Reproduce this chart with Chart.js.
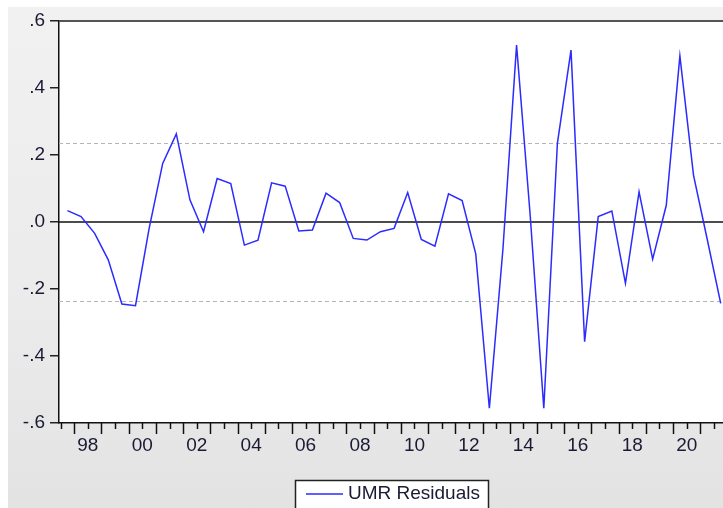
<!DOCTYPE html>
<html>
<head>
<meta charset="utf-8">
<script src="https://cdn.jsdelivr.net/npm/chart.js@4/dist/chart.umd.min.js"></script>
<style>
  html, body { margin: 0; padding: 0; background: #ffffff; overflow: hidden; }
  #wrap { position: relative; width: 723px; height: 508px; overflow: hidden; }
  #panel {
    position: absolute; left: 8px; top: 7px; right: 0; bottom: 0;
    background: linear-gradient(to bottom, #f1f1f1 0%, #ebebeb 60%, #e3e3e3 100%);
  }
  #c { position: absolute; left: 0; top: 0; }
</style>
</head>
<body>
<div id="wrap">
  <div id="panel"></div>
  <canvas id="c" width="760" height="508"></canvas>
</div>
<script>
// Semiannual residuals, 1997H2 .. 2021H2
const periods = [
  '1997H2',
  '1998H1','1998H2','1999H1','1999H2','2000H1','2000H2','2001H1','2001H2',
  '2002H1','2002H2','2003H1','2003H2','2004H1','2004H2','2005H1','2005H2',
  '2006H1','2006H2','2007H1','2007H2','2008H1','2008H2','2009H1','2009H2',
  '2010H1','2010H2','2011H1','2011H2','2012H1','2012H2','2013H1','2013H2',
  '2014H1','2014H2','2015H1','2015H2','2016H1','2016H2','2017H1','2017H2',
  '2018H1','2018H2','2019H1','2019H2','2020H1','2020H2','2021H1','2021H2'
];
const residuals = [
  0.034,
  0.016, -0.034, -0.113, -0.245, -0.250, -0.020, 0.175, 0.263,
  0.066, -0.029, 0.130, 0.115, -0.069, -0.054, 0.117, 0.107,
  -0.027, -0.024, 0.086, 0.058, -0.049, -0.054, -0.029, -0.019,
  0.088, -0.052, -0.072, 0.084, 0.064, -0.095, -0.556, -0.080,
  0.528, 0.020, -0.556, 0.235, 0.513, -0.357, 0.016, 0.033,
  -0.183, 0.090, -0.111, 0.050, 0.496, 0.140, -0.050, -0.243
];
const yTicks = [-0.6, -0.4, -0.2, 0.0, 0.2, 0.4, 0.6];
const yearLabels = ['98','00','02','04','06','08','10','12','14','16','18','20'];
const bandLevel = 0.235;   // +/- reference band
const seriesName = 'UMR Residuals';

const FONT = "'Liberation Sans', Arial, sans-serif";
const TEXT = '#1a1a33';
const BLUE = '#2b2bff';

// year label lookup: each labelled year sits mid-year, between its H1 and H2
const firstYear = 1998;
function labelForPos(v) {
  const k = (v - 1.5) / 2;
  if (Math.abs(k - Math.round(k)) > 1e-6) return '';
  const year = firstYear + Math.round(k);
  const lab = String(year % 100).padStart(2, '0');
  return yearLabels.includes(lab) && (year % 2 === 0) ? lab : '';
}

const framePlugin = {
  id: 'frame',
  beforeDraw(chart) {
    const { ctx, chartArea: a } = chart;
    ctx.save();
    ctx.fillStyle = '#ffffff';
    ctx.fillRect(a.left, a.top, a.right - a.left, a.bottom - a.top);
    ctx.restore();
  },
  beforeDatasetsDraw(chart) {
    const { ctx, chartArea: a, scales } = chart;
    const y = scales.y;
    ctx.save();
    // dashed band lines
    ctx.strokeStyle = '#b4b4b4';
    ctx.lineWidth = 1;
    ctx.setLineDash([4, 3]);
    [bandLevel, -bandLevel].forEach(v => {
      const py = Math.round(y.getPixelForValue(v)) + 0.5;
      ctx.beginPath(); ctx.moveTo(a.left, py); ctx.lineTo(a.right, py); ctx.stroke();
    });
    ctx.setLineDash([]);
    // zero line
    ctx.strokeStyle = '#111111';
    ctx.lineWidth = 1.5;
    const pz = y.getPixelForValue(0);
    ctx.beginPath(); ctx.moveTo(a.left, pz); ctx.lineTo(a.right, pz); ctx.stroke();
    // top frame
    ctx.strokeStyle = '#555555';
    ctx.lineWidth = 2;
    ctx.beginPath(); ctx.moveTo(a.left, a.top); ctx.lineTo(a.right, a.top); ctx.stroke();
    ctx.restore();
  },
  afterDraw(chart) {
    const { ctx, chartArea: a, scales } = chart;
    const x = scales.x;
    ctx.save();
    // x tick marks: long at year boundaries, short at mid-year
    ctx.strokeStyle = '#111111';
    ctx.lineWidth = 1.5;
    for (let v = -0.5; v <= x.max; v += 1) {
      const px = Math.round(x.getPixelForValue(v)) + 0.5;
      if (px < a.left - 1) continue;
      const isYearStart = Math.round((v - 0.5)) % 2 === 0;
      const len = isYearStart ? 11 : 6;
      ctx.beginPath(); ctx.moveTo(px, a.bottom); ctx.lineTo(px, a.bottom + len); ctx.stroke();
    }
    // legend box
    const ds = chart.data.datasets[0];
    const bx = 295.5, by = 480.5, bw = 193, bh = 40;
    ctx.fillStyle = '#ffffff';
    ctx.fillRect(bx, by, bw, bh);
    ctx.strokeStyle = '#222222';
    ctx.lineWidth = 1.5;
    ctx.strokeRect(bx, by, bw, bh);
    ctx.strokeStyle = ds.borderColor;
    ctx.lineWidth = 1.5;
    ctx.beginPath(); ctx.moveTo(306, 494); ctx.lineTo(343, 494); ctx.stroke();
    ctx.fillStyle = TEXT;
    ctx.font = '19px ' + FONT;
    ctx.textBaseline = 'middle';
    ctx.textAlign = 'left';
    ctx.fillText(ds.label, 348, 494);
    ctx.restore();
  }
};

const pxPerObs = 13.61;
const xMin = -0.62;
const xMax = xMin + (760 - 59) / pxPerObs;

new Chart(document.getElementById('c'), {
  type: 'line',
  data: {
    datasets: [{
      label: seriesName,
      data: residuals.map((v, i) => ({ x: i, y: v, period: periods[i] })),
      borderColor: BLUE,
      borderWidth: 1.5,
      pointRadius: 0,
      pointHoverRadius: 0,
      tension: 0,
      fill: false
    }]
  },
  options: {
    responsive: false,
    animation: false,
    devicePixelRatio: 1,
    events: [],
    layout: { autoPadding: false, padding: { top: 21, left: 0, right: 0, bottom: 0 } },
    plugins: { legend: { display: false }, tooltip: { enabled: false } },
    scales: {
      x: {
        type: 'linear',
        min: xMin,
        max: xMax,
        afterBuildTicks(scale) {
          // label positions only across the observed span
          const t = [];
          for (let v = -0.5; v <= residuals.length - 0.5; v += 1) t.push({ value: v });
          scale.ticks = t;
        },
        afterFit(scale) { scale.height = 85; },
        grid: { display: false, drawTicks: false },
        border: { display: true, color: '#111111', width: 1.5 },
        ticks: {
          autoSkip: false,
          maxRotation: 0,
          padding: 11,
          color: TEXT,
          font: { family: FONT, size: 19 },
          callback: (v) => labelForPos(v)
        }
      },
      y: {
        min: -0.6,
        max: 0.6,
        afterBuildTicks(scale) { scale.ticks = yTicks.map(v => ({ value: v })); },
        afterFit(scale) { scale.width = 59; },
        grid: { display: true, drawOnChartArea: false, drawTicks: true, tickLength: 9, color: '#222222', lineWidth: 1.5 },
        border: { display: true, color: '#111111', width: 1.5 },
        ticks: {
          padding: 5,
          color: TEXT,
          font: { family: FONT, size: 19 },
          callback: (v) => {
            const n = Math.round(v * 10);
            return (n < 0 ? '-' : '') + '.' + Math.abs(n);
          }
        }
      }
    }
  },
  plugins: [framePlugin]
});
</script>
</body>
</html>
